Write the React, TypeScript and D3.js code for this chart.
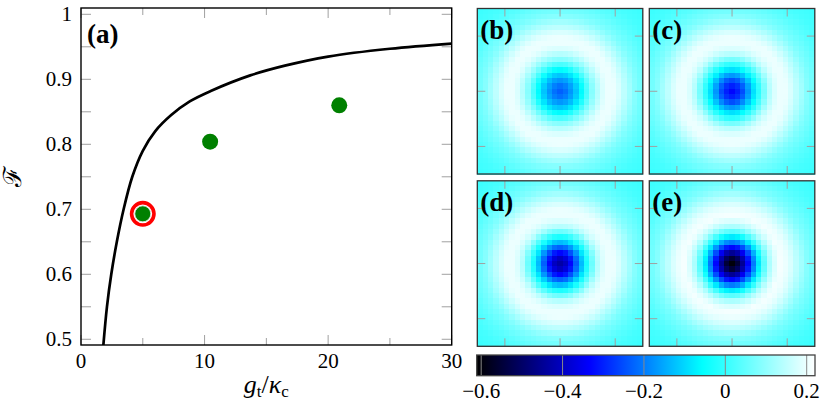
import React from "react";
import * as d3 from "d3";

// ---------- data: panel (a) ----------
const curveX = [1.81, 2.1, 2.45, 2.9, 3.45, 4.15, 5.0, 6.0, 7.3, 8.8, 10.5, 13.7, 16.5, 20, 25, 30];
const curveF = [0.491, 0.55, 0.6, 0.65, 0.7, 0.75, 0.79, 0.82, 0.845, 0.866, 0.882, 0.906, 0.921, 0.935, 0.947, 0.955];
const dotX = [5.0, 10.45, 20.9];
const dotF = [0.693, 0.804, 0.86];
const highlighted = [true, false, false];
const xMajor = [0, 10, 20, 30];
const xMinor = [5, 15, 25];
const yMajor = [0.5, 0.6, 0.7, 0.8, 0.9, 1.0];
const yMinor = [0.55, 0.65, 0.75, 0.85, 0.95];
const yLabels = ["0.5", "0.6", "0.7", "0.8", "0.9", "1"];
const xLabels = ["0", "10", "20", "30"];

// ---------- data: Wigner panels (radial profiles, in cell units) ----------
const panelLabels = ["(b)", "(c)", "(d)", "(e)"];
const profileRadii = [0, 1, 2, 3, 4, 5, 6, 7, 8, 9, 10, 11, 12, 13, 14, 15, 17, 19, 22];
const profileB = [-0.23, -0.21, -0.17, -0.12, -0.06, 0.02, 0.09, 0.14, 0.18, 0.2, 0.2, 0.18, 0.15, 0.12, 0.09, 0.07, 0.04, 0.02, 0.005];
const profileC = [-0.33, -0.3, -0.25, -0.17, -0.09, -0.01, 0.07, 0.14, 0.18, 0.2, 0.2, 0.18, 0.15, 0.12, 0.09, 0.07, 0.04, 0.02, 0.005];
const profileD = [-0.43, -0.4, -0.33, -0.23, -0.13, -0.03, 0.06, 0.14, 0.18, 0.2, 0.2, 0.18, 0.15, 0.12, 0.09, 0.07, 0.04, 0.02, 0.005];
const profileE = [-0.6, -0.55, -0.45, -0.33, -0.2, -0.08, 0.04, 0.13, 0.18, 0.21, 0.2, 0.18, 0.15, 0.12, 0.09, 0.07, 0.04, 0.02, 0.005];
const profiles = [profileB, profileC, profileD, profileE];
const gridN = 31;
const phaseTicks = [-2, 0, 2];

// ---------- colormap / colorbar ----------
const cmapDomain = [-0.611, -0.334, -0.057, 0.2204];
const cmapColors = ["#000000", "#0000ff", "#00ffff", "#ffffff"];
const cbTicks = [-0.6, -0.4, -0.2, 0, 0.2];
const cbLabels = ["\u22120.6", "\u22120.4", "\u22120.2", "0", "0.2"];

const SERIF = "'Liberation Serif', 'Times New Roman', Times, 'DejaVu Serif', serif";

export default function App() {
  const W = 829, H = 410;
  const px0 = 81, px1 = 451.7, py0 = 8, py1 = 345;
  const x = d3.scaleLinear().domain([0, 30]).range([px0, px1]);
  const y = d3.scaleLinear().domain([0.4912, 1.0097]).range([py1, py0]);
  const line = d3
    .line<number>()
    .x((_, i) => x(curveX[i]))
    .y((_, i) => y(curveF[i]))
    .curve(d3.curveCatmullRom.alpha(0.5));
  const pathD = line(curveX) || "";

  const cmap = d3.scaleLinear<string>().domain(cmapDomain).range(cmapColors).clamp(true);

  const tickCol = "#a0a0a0";
  const majL = 10, minL = 7;

  const size = 165.5;
  const cols = [477.3, 649.3];
  const rows = [8.5, 180.8];

  const cbX0 = 476.7, cbX1 = 815, cbY0 = 355, cbY1 = 375.7;
  const cbScale = d3.scaleLinear().domain([cmapDomain[0], cmapDomain[3]]).range([cbX0, cbX1]);

  return (
    <svg
      width={W}
      height={H}
      viewBox={`0 0 ${W} ${H}`}
      style={{ position: "absolute", left: 0, top: 0, background: "#fff", fontFamily: SERIF }}
    >
      <defs>
        <clipPath id="clipA">
          <rect x={px0} y={py0} width={px1 - px0} height={py1 - py0} />
        </clipPath>
        <linearGradient id="cbGrad" x1="0" x2="1" y1="0" y2="0">
          {cmapDomain.map((v, i) => (
            <stop
              key={i}
              offset={(v - cmapDomain[0]) / (cmapDomain[3] - cmapDomain[0])}
              stopColor={cmapColors[i]}
            />
          ))}
        </linearGradient>
      </defs>

      {/* ---------- panel (a) ---------- */}
      <g>
        {xMajor.map((v) => (
          <g key={"xM" + v}>
            <line x1={x(v)} x2={x(v)} y1={py1} y2={py1 - majL} stroke={tickCol} strokeWidth={1} />
            <line x1={x(v)} x2={x(v)} y1={py0} y2={py0 + majL} stroke={tickCol} strokeWidth={1} />
          </g>
        ))}
        {xMinor.map((v) => (
          <g key={"xm" + v}>
            <line x1={x(v)} x2={x(v)} y1={py1} y2={py1 - minL} stroke={tickCol} strokeWidth={1} />
            <line x1={x(v)} x2={x(v)} y1={py0} y2={py0 + minL} stroke={tickCol} strokeWidth={1} />
          </g>
        ))}
        {[...yMajor, ...yMinor].map((v) => (
          <g key={"y" + v}>
            <line x1={px0} x2={px0 + majL} y1={y(v)} y2={y(v)} stroke={tickCol} strokeWidth={1} />
            <line x1={px1} x2={px1 - majL} y1={y(v)} y2={y(v)} stroke={tickCol} strokeWidth={1} />
          </g>
        ))}
        <g clipPath="url(#clipA)">
          <path d={pathD} fill="none" stroke="#000" strokeWidth={2.7} strokeLinejoin="round" />
        </g>
        {dotX.map((v, i) =>
          highlighted[i] ? (
            <g key={"d" + i}>
              <circle cx={x(v)} cy={y(dotF[i])} r={11.2} fill="#fff" stroke="#ff0000" strokeWidth={3.6} />
              <circle cx={x(v)} cy={y(dotF[i])} r={8} fill="#008000" stroke="#e8e8e8" strokeWidth={0.8} />
            </g>
          ) : (
            <circle key={"d" + i} cx={x(v)} cy={y(dotF[i])} r={8} fill="#008000" />
          )
        )}
        <rect x={px0} y={py0} width={px1 - px0} height={py1 - py0} fill="none" stroke="#000" strokeWidth={1.4} />
        {yMajor.map((v, i) => (
          <text key={"yl" + v} x={px0 - 9} y={y(v) + 7} textAnchor="end" fontFamily={SERIF} fontSize={21}>
            {yLabels[i]}
          </text>
        ))}
        {xMajor.map((v, i) => (
          <text key={"xl" + v} x={x(v)} y={py1 + 23} textAnchor="middle" fontFamily={SERIF} fontSize={21}>
            {xLabels[i]}
          </text>
        ))}
        <text x={(px0 + px1) / 2} y={393} textAnchor="middle" fontFamily={SERIF} fontSize={26}>
          <tspan fontStyle="italic">g</tspan>
          <tspan fontSize={17} dy={4}>t</tspan>
          <tspan dy={-4}>/</tspan>
          <tspan fontStyle="italic">κ</tspan>
          <tspan fontSize={17} dy={4}>c</tspan>
        </text>
        <text
          transform={`translate(21,${(py0 + py1) / 2}) rotate(-90)`}
          textAnchor="middle"
          fontFamily={SERIF}
          fontSize={25}
        >
          ℱ
        </text>
        <text x={87} y={43} fontFamily={SERIF} fontSize={27} fontWeight="bold">
          (a)
        </text>
      </g>

      {/* ---------- Wigner panels ---------- */}
      {profiles.map((prof, p) => {
        const ox = cols[p % 2];
        const oy = rows[Math.floor(p / 2)];
        const cx = d3.scaleLinear().domain([0, gridN]).range([ox, ox + size]);
        const cy = d3.scaleLinear().domain([0, gridN]).range([oy, oy + size]);
        const radial = d3.scaleLinear().domain(profileRadii).range(prof).clamp(true);
        const ph = d3.scaleLinear().domain([-3, 3]).range([ox, ox + size]);
        const pv = d3.scaleLinear().domain([-3, 3]).range([oy + size, oy]);
        const c0 = (gridN - 1) / 2;
        const cells = [];
        for (let i = 0; i < gridN; i++) {
          for (let j = 0; j < gridN; j++) {
            const v = radial(Math.hypot(i - c0, j - c0));
            cells.push(
              <rect
                key={i * gridN + j}
                x={cx(i)}
                y={cy(j)}
                width={cx(i + 1) - cx(i) + 0.5}
                height={cy(j + 1) - cy(j) + 0.5}
                fill={cmap(v)}
              />
            );
          }
        }
        return (
          <g key={"p" + p}>
            <g shapeRendering="crispEdges">{cells}</g>
            {phaseTicks.map((t) => (
              <g key={"t" + t}>
                <line x1={ph(t)} x2={ph(t)} y1={oy} y2={oy + 8} stroke={tickCol} strokeWidth={1} />
                <line x1={ph(t)} x2={ph(t)} y1={oy + size} y2={oy + size - 8} stroke={tickCol} strokeWidth={1} />
                <line x1={ox} x2={ox + 8} y1={pv(t)} y2={pv(t)} stroke={tickCol} strokeWidth={1} />
                <line x1={ox + size} x2={ox + size - 8} y1={pv(t)} y2={pv(t)} stroke={tickCol} strokeWidth={1} />
              </g>
            ))}
            <rect x={ox} y={oy} width={size} height={size} fill="none" stroke="#333" strokeWidth={1.3} />
            <text x={ox + 3} y={oy + 30} fontFamily={SERIF} fontSize={27} fontWeight="bold">
              {panelLabels[p]}
            </text>
          </g>
        );
      })}

      {/* ---------- colorbar ---------- */}
      <rect x={cbX0} y={cbY0} width={cbX1 - cbX0} height={cbY1 - cbY0} fill="url(#cbGrad)" />
      {cbTicks.map((t) => (
        <line key={"cb" + t} x1={cbScale(t)} x2={cbScale(t)} y1={cbY0} y2={cbY1} stroke="#888" strokeWidth={1} />
      ))}
      <rect x={cbX0} y={cbY0} width={cbX1 - cbX0} height={cbY1 - cbY0} fill="none" stroke="#444" strokeWidth={1.3} />
      {cbTicks.map((t, i) => (
        <text key={"cbl" + t} x={cbScale(t)} y={398} textAnchor="middle" fontFamily={SERIF} fontSize={21}>
          {cbLabels[i]}
        </text>
      ))}
    </svg>
  );
}
